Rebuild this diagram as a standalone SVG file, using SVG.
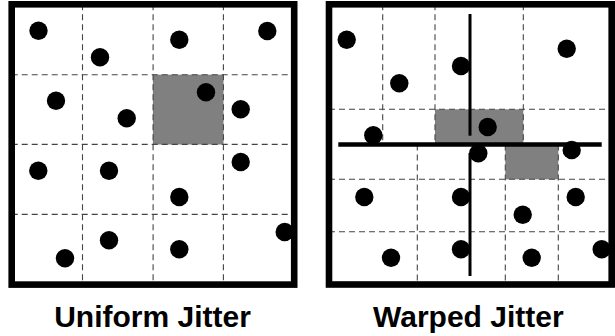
<svg xmlns="http://www.w3.org/2000/svg" width="615" height="336" viewBox="0 0 615 336">
<style>
.dash{stroke:#444;stroke-width:1.1;stroke-dasharray:6,4;fill:none}
.cell{fill:#808080;stroke:none}
.dot{fill:#000}
.frame{fill:none;stroke:#000;stroke-width:6.6}
.warp{stroke:#000;fill:none}
.lbl{font-family:"Liberation Sans",Arial,sans-serif;font-weight:bold;font-size:30px;text-anchor:middle;fill:#000}
</style>
<rect width="615" height="336" fill="#fff"/>
<g id="uniform">
<rect class="cell" x="152.9" y="74.7" width="70.6" height="69.8"/>
<g class="dash">
<line x1="82.5" y1="4.3" x2="82.5" y2="284.6"/>
<line x1="153.1" y1="4.3" x2="153.1" y2="284.6"/>
<line x1="223.4" y1="4.3" x2="223.4" y2="284.6"/>
<line x1="11.7" y1="74.7" x2="294.2" y2="74.7"/>
<line x1="11.7" y1="144.4" x2="294.2" y2="144.4"/>
<line x1="11.7" y1="214.4" x2="294.2" y2="214.4"/>
</g>
<g class="dot">
<circle cx="38.5" cy="30.8" r="9.2"/>
<circle cx="100" cy="57.3" r="9.2"/>
<circle cx="179.3" cy="39.7" r="9.2"/>
<circle cx="267.3" cy="31" r="9.2"/>
<circle cx="56" cy="100.7" r="9.2"/>
<circle cx="126.7" cy="118.3" r="9.2"/>
<circle cx="206" cy="92.3" r="9.2"/>
<circle cx="240.7" cy="109.3" r="9.2"/>
<circle cx="38.3" cy="170.7" r="9.2"/>
<circle cx="109" cy="170.7" r="9.2"/>
<circle cx="240.7" cy="162" r="9.2"/>
<circle cx="179.3" cy="197" r="9.2"/>
<circle cx="284.7" cy="232" r="9.2"/>
<circle cx="109" cy="240.3" r="9.2"/>
<circle cx="179.3" cy="249.3" r="9.2"/>
<circle cx="65" cy="258.3" r="9.2"/>
</g>
<rect class="frame" x="11.7" y="4.3" width="282.5" height="280.3"/>
<text class="lbl" x="152.5" y="326.5">Uniform Jitter</text>
</g>
<g id="warped">
<rect class="cell" x="435" y="109.3" width="88.3" height="35.2"/>
<rect class="cell" x="505.3" y="144.5" width="53" height="34.8"/>
<g class="dash">
<line x1="382.7" y1="4.3" x2="382.7" y2="144.5"/>
<line x1="435" y1="4.3" x2="435" y2="144.5"/>
<line x1="523.3" y1="4.3" x2="523.3" y2="144.5"/>
<line x1="329" y1="109.3" x2="611.7" y2="109.3"/>
<line x1="417.3" y1="144.5" x2="417.3" y2="284.5"/>
<line x1="505.3" y1="144.5" x2="505.3" y2="284.5"/>
<line x1="558.3" y1="144.5" x2="558.3" y2="284.5"/>
<line x1="329" y1="179.3" x2="611.7" y2="179.3"/>
<line x1="329" y1="231.7" x2="611.7" y2="231.7"/>
</g>
<g id="warp-lines">
<line class="warp" x1="338.3" y1="144.5" x2="601.7" y2="144.5" stroke-width="4.3"/>
<line class="warp" x1="470" y1="14" x2="470" y2="135.7" stroke-width="3"/>
<line class="warp" x1="470" y1="153" x2="470" y2="276" stroke-width="3"/>
</g>
<g class="dot">
<circle cx="346.7" cy="39.7" r="9.2"/>
<circle cx="566.7" cy="48.7" r="9.2"/>
<circle cx="461" cy="66" r="9.2"/>
<circle cx="399.3" cy="83.3" r="9.2"/>
<circle cx="487.7" cy="127" r="9.2"/>
<circle cx="373.3" cy="135.3" r="9.2"/>
<circle cx="478.3" cy="153.3" r="9.2"/>
<circle cx="571.7" cy="150" r="9.2"/>
<circle cx="364.3" cy="197" r="9.2"/>
<circle cx="461" cy="197" r="9.2"/>
<circle cx="575.7" cy="197" r="9.2"/>
<circle cx="522.7" cy="214.7" r="9.2"/>
<circle cx="461" cy="249.3" r="9.2"/>
<circle cx="391" cy="257.7" r="9.2"/>
<circle cx="531.7" cy="257.7" r="9.2"/>
<circle cx="601.7" cy="249.3" r="9.2"/>
</g>
<rect class="frame" x="329" y="4.3" width="282.7" height="280.2"/>
<text class="lbl" x="468.3" y="326.5">Warped Jitter</text>
</g>
</svg>
